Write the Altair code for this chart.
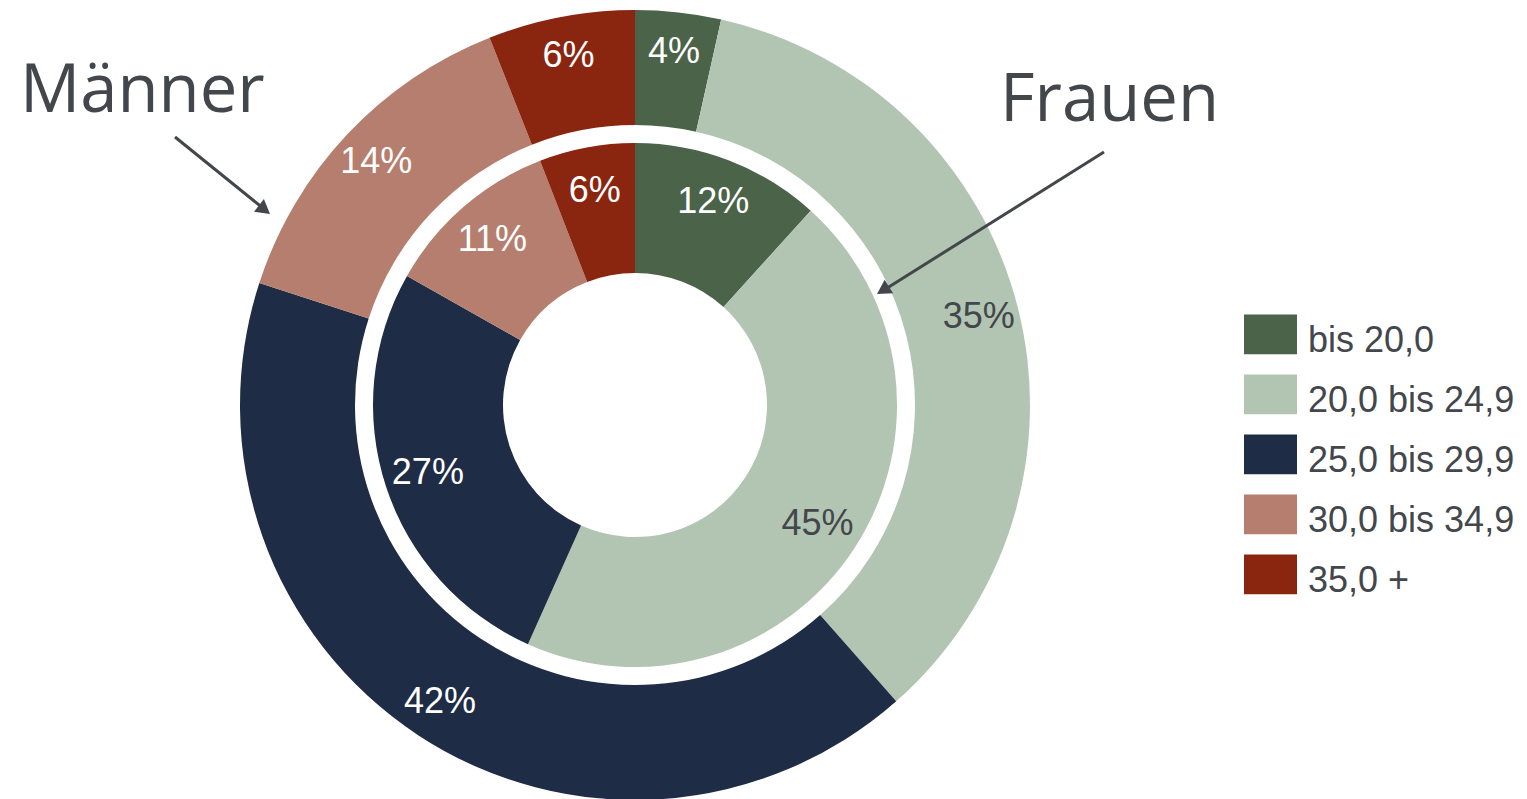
import altair as alt
import pandas as pd

categories = ["bis 20,0", "20,0 bis 24,9", "25,0 bis 29,9", "30,0 bis 34,9", "35,0 +"]
colors = ["#4a6349", "#b2c5b2", "#1f2c45", "#b67e6e", "#8a2510"]

maenner_values = [3.5, 35.0, 41.5, 14.0, 6.0]
maenner_labels = ["4%", "35%", "42%", "14%", "6%"]
frauen_values = [11.7, 45.0, 26.5, 10.9, 5.9]
frauen_labels = ["12%", "45%", "27%", "11%", "6%"]

rows = []
for i, c in enumerate(categories):
    rows.append({"ring": "Männer", "idx": i, "category": c, "value": maenner_values[i], "label": maenner_labels[i]})
for i, c in enumerate(categories):
    rows.append({"ring": "Frauen", "idx": i, "category": c, "value": frauen_values[i], "label": frauen_labels[i]})
df = pd.DataFrame(rows)

CX, CY = 627, 397
TEXT = "#43474c"
sym_path = "M-1,-1H1V0.5H-1Z"

color_enc = alt.Color(
    "category:N",
    scale=alt.Scale(domain=categories, range=colors),
    legend=alt.Legend(
        title=None, orient="none", legendX=1236, legendY=306.6,
        labelFontSize=36, labelFont="Liberation Sans", labelColor=TEXT,
        symbolType=sym_path, symbolSize=2809, symbolStrokeWidth=0, symbolOpacity=1,
        rowPadding=15, labelOffset=11, padding=0, labelLimit=400,
    ),
)

base = alt.Chart(df).encode(
    theta=alt.Theta("value:Q", stack="normalize"),
    order=alt.Order("idx:Q"),
    x=alt.value(CX), y=alt.value(CY),
)

outer = base.transform_filter(alt.datum.ring == "Männer").mark_arc(radius=395, radius2=280).encode(color=color_enc)
inner = base.transform_filter(alt.datum.ring == "Frauen").mark_arc(radius=262, radius2=132).encode(color=color_enc)

label_color = alt.when(alt.datum.category == "20,0 bis 24,9").then(alt.value(TEXT)).otherwise(alt.value("white"))

outer_text = base.transform_filter(alt.datum.ring == "Männer").mark_text(
    radius=355, fontSize=36, font="Liberation Sans", align="center", baseline="middle"
).encode(text="label:N", detail="category:N", color=label_color)
inner_text = base.transform_filter(alt.datum.ring == "Frauen").mark_text(
    radius=218, fontSize=36, font="Liberation Sans", align="center", baseline="middle"
).encode(text="label:N", detail="category:N", color=label_color)

one = pd.DataFrame({"a": [0]})
ann = alt.Chart(one)
t_m = ann.mark_text(text="Männer", font="Open Sans", fontSize=67, color=TEXT, align="left", baseline="alphabetic").encode(
    x=alt.value(12), y=alt.value(104))
t_f = ann.mark_text(text="Frauen", font="Open Sans", fontSize=67, color=TEXT, align="left", baseline="alphabetic").encode(
    x=alt.value(992), y=alt.value(113))
r_m = ann.mark_rule(color=TEXT, strokeWidth=3).encode(
    x=alt.value(167), y=alt.value(129), x2=alt.value(256), y2=alt.value(201))
r_f = ann.mark_rule(color=TEXT, strokeWidth=3).encode(
    x=alt.value(1096), y=alt.value(144), x2=alt.value(876), y2=alt.value(282))
head_path = "M0,0L1,1.75L-1,1.75Z"
h_m = ann.mark_point(shape=head_path, filled=True, size=256, color=TEXT, opacity=1, angle=128).encode(
    x=alt.value(262), y=alt.value(206))
h_f = ann.mark_point(shape=head_path, filled=True, size=256, color=TEXT, opacity=1, angle=238).encode(
    x=alt.value(869), y=alt.value(286))

chart = alt.layer(outer, inner, outer_text, inner_text, t_m, t_f, r_m, r_f, h_m, h_f).properties(
    width=1511, height=791, autosize="none", padding=0, background="white"
).configure_view(strokeWidth=0)

chart.save("out.html", embed_options={"renderer": "svg", "actions": False})
